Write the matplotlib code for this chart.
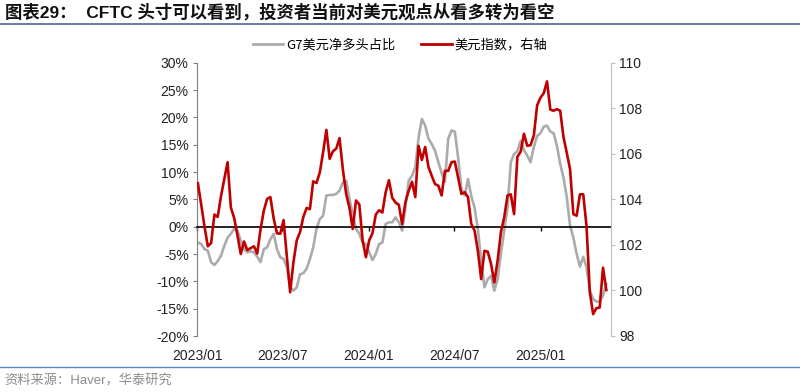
"""CFTC G7 美元净多头占比 与 美元指数（右轴）对比图。"""
import matplotlib
matplotlib.use('Agg')
import numpy as np
import pandas as pd
import matplotlib.pyplot as plt
from matplotlib.lines import Line2D
from matplotlib.ticker import FuncFormatter

# 周度数据，起始 2023-01-03
start_date = "2023-01-03"

# G7 美元净多头占比（%）
g7_net_long = [
    -2.9, -3.2, -4.1, -4.4, -6.5, -7.0, -6.3, -5.3, -3.5, -2.0,
    -1.3, -0.4, -0.7, -2.6, -4.1, -4.7, -4.5, -4.7, -5.5, -6.5,
    -4.1, -3.8, -2.3, -1.3, -4.1, -5.6, -5.9, -7.4, -11.1, -11.7,
    -11.1, -8.7, -8.5, -7.7, -5.9, -3.8, -0.4, 1.4, 2.0, 5.7,
    5.8, 5.8, 6.0, 6.6, 8.1, 8.4, 5.1, 2.3, -0.4, -1.3,
    -2.9, -3.2, -4.7, -6.1, -5.0, -3.2, -2.9, 0.5, 0.8, 0.8,
    1.7, 0.8, -0.7, 3.5, 8.4, 9.3, 10.9, 16.3, 19.7, 18.5,
    16.1, 15.1, 13.9, 11.8, 9.8, 8.2, 16.1, 17.6, 17.4, 12.7,
    6.9, 5.7, 8.7, 5.6, 3.5, -0.5, -6.0, -11.1, -9.6, -9.0,
    -11.7, -9.6, -5.0, -0.7, 3.5, 11.8, 13.3, 13.8, 15.7, 14.0,
    13.0, 11.8, 14.6, 16.6, 17.1, 18.3, 18.5, 17.4, 17.1, 14.8,
    11.5, 9.0, 5.4, 0.2, -2.0, -5.0, -7.3, -5.5, -7.4, -11.7,
    -13.2, -13.7, -13.7, -12.6, -10.5,
]

# 美元指数（右轴）
dxy = [
    104.70, 103.76, 102.80, 101.94, 102.08, 103.33, 103.23, 104.14, 104.89, 105.63,
    103.64, 103.18, 102.42, 101.60, 102.15, 101.77, 101.86, 101.94, 101.62, 102.68,
    103.50, 104.02, 104.10, 103.16, 102.51, 102.49, 103.09, 101.48, 99.92, 101.24,
    102.20, 102.56, 103.23, 103.62, 103.57, 104.79, 104.72, 105.18, 106.06, 107.05,
    105.78, 106.11, 106.23, 106.69, 105.32, 104.24, 103.64, 102.70, 103.95, 103.78,
    102.20, 101.46, 102.20, 102.51, 103.33, 103.52, 103.42, 104.31, 104.84, 104.07,
    103.86, 103.76, 102.92, 103.88, 104.38, 104.77, 104.10, 106.35, 105.73, 106.30,
    105.42, 105.03, 104.67, 104.60, 104.17, 105.25, 105.25, 105.63, 105.66, 104.96,
    104.24, 104.31, 104.10, 102.92, 102.63, 101.74, 100.50, 101.74, 101.70, 101.17,
    100.35, 101.31, 102.56, 103.21, 104.17, 104.22, 103.35, 105.87, 106.09, 106.88,
    106.35, 106.38, 106.81, 108.13, 108.46, 108.66, 109.18, 107.94, 107.89, 107.96,
    107.89, 106.74, 106.04, 105.32, 103.35, 103.28, 104.22, 104.22, 102.82, 99.92,
    98.96, 99.22, 99.25, 101.00, 100.02,
]

x_ticks = ["2023-01-01", "2023-07-01", "2024-01-01", "2024-07-01", "2025-01-01"]
x_tick_labels = ["2023/01", "2023/07", "2024/01", "2024/07", "2025/01"]

title = "图表29：  CFTC 头寸可以看到，投资者当前对美元观点从看多转为看空"
source = "资料来源：Haver，华泰研究"
label_g7 = "G7美元净多头占比"
label_dxy = "美元指数，右轴"

RED = "#C00000"
GREY = "#ABABAB"
FONT = ["Liberation Sans", "Noto Sans CJK SC"]

plt.rcParams['font.family'] = FONT

dates = pd.date_range(start_date, periods=len(dxy), freq="7D")

fig = plt.figure(figsize=(8, 3.92), dpi=100)
ax = fig.add_axes([197 / 800, 1 - 336 / 392, (611 - 197) / 800, (336 - 62.7) / 392])
ax2 = ax.twinx()

ax.plot(dates, g7_net_long, color=GREY, lw=1.9)
ax2.plot(dates, dxy, color=RED, lw=1.9)

ax.set_ylim(-20, 30)
ax.set_yticks(np.arange(-20, 31, 5))
ax.yaxis.set_major_formatter(FuncFormatter(lambda v, _: f"{v:.0f}%"))
ax2.set_ylim(98, 110)
ax2.set_yticks(np.arange(98, 111, 2))

ax.set_xlim(pd.Timestamp("2023-01-01"), pd.Timestamp("2025-05-30"))
ax.set_xticks(pd.to_datetime(x_ticks))
ax.set_xticklabels(x_tick_labels)

# 零轴作为 x 轴
ax.spines['bottom'].set_position(('data', 0))
ax.spines['bottom'].set_color("black")
ax.spines['bottom'].set_linewidth(1.2)
ax.spines['top'].set_visible(False)
ax.spines['right'].set_visible(False)
ax.spines['left'].set_color("#7F7F7F")
for s in ['top', 'left', 'bottom']:
    ax2.spines[s].set_visible(False)
ax2.spines['right'].set_color("#BFBFBF")

ax.tick_params(axis='x', length=3, width=1, color="black", pad=85, labelsize=10, labelcolor="#222222")
ax.tick_params(axis='y', length=3, color="#7F7F7F", labelsize=10, labelcolor="#222222", pad=3)
ax2.tick_params(axis='y', length=3, color="#BFBFBF", labelsize=10, labelcolor="#222222", pad=3)

handles = [Line2D([], [], color=GREY, lw=2.0), Line2D([], [], color=RED, lw=2.0)]
fig.legend(handles, [label_g7, label_dxy], loc="center", bbox_to_anchor=(0.5, 1 - 45 / 392),
           ncol=2, frameon=False, handlelength=2.3, handletextpad=0.2,
           columnspacing=2.0, prop={'family': ["Noto Sans CJK SC"], 'size': 9.5})

fig.text(0.006, 1 - 12 / 392, title, fontsize=12.5, fontweight="bold", va="center", ha="left",
         color="#111111")
fig.add_artist(Line2D([0, 1], [1 - 24 / 392, 1 - 24 / 392], transform=fig.transFigure,
                      color="#4A6A9A", lw=1.2))
fig.add_artist(Line2D([0, 1], [1 - 367 / 392, 1 - 367 / 392], transform=fig.transFigure,
                      color="#5B87C0", lw=1.0))
fig.text(0.006, 1 - 381 / 392, source, fontsize=9.5, va="center", ha="left", color="#8C8C8C",
         family=["Liberation Sans", "Noto Sans CJK SC"])

fig.savefig("out.png", dpi=100)
